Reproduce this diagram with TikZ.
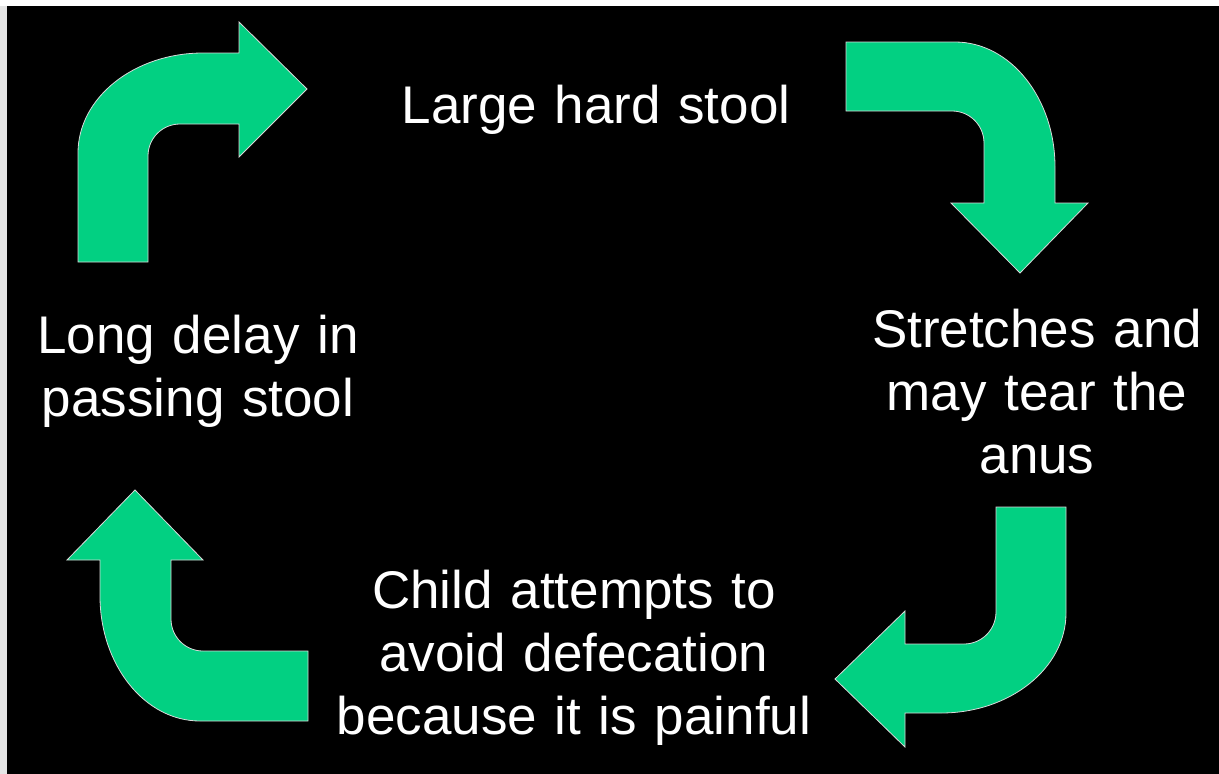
\documentclass[tikz,border=0pt]{standalone}
\usepackage{fontspec}
\setmainfont{Liberation Sans}
\usepackage{tikz}
\definecolor{mint}{RGB}{2,208,130}
\tikzstyle{bent} = [fill=mint, draw=black!15, line width=0.8pt, line join=miter]
\tikzstyle{cycletext} = [text=white, anchor=base, align=center, text width=500pt, inner sep=0pt, font=\fontsize{53}{63}\selectfont]

\begin{document}
\begin{tikzpicture}[x=1pt,y=-1pt]
			\fill[white] (0,0) rectangle (1219,774);
			\fill[black!10] (0,6) rectangle (7,774);
			\fill[black] (7,6) rectangle (1219,774);
			\useasboundingbox (0,0) rectangle (1219,774);
			% up, then right
			\draw[bent] (78,262) -- (78,153) .. controls (78,97.8) and (134,53) .. (203,53) -- (239,53) -- (239,22) -- (307,89) -- (239,157) -- (239,124) -- (180,124) .. controls (162.3,124) and (148,138.3) .. (148,156) -- (148,262) -- cycle;
			% right, then down
			\draw[bent] (846,42) -- (955,42) .. controls (1010.2,42) and (1055,98) .. (1055,167) -- (1055,203) -- (1088,203) -- (1020,273) -- (951,203) -- (984,203) -- (984,143) .. controls (984,125.3) and (969.7,111) .. (952,111) -- (846,111) -- cycle;
			% down, then left
			\draw[bent] (1066,507) -- (1066,613) .. controls (1066,668.2) and (1010,713) .. (941,713) -- (905,713) -- (905,747) -- (835,679) -- (905,611) -- (905,644) -- (964,644) .. controls (981.7,644) and (996,629.7) .. (996,612) -- (996,507) -- cycle;
			% left, then up
			\draw[bent] (308,721) -- (200,721) .. controls (144.8,721) and (100,665) .. (100,596) -- (100,560) -- (67,560) -- (135,490) -- (203,560) -- (171,560) -- (171,619) .. controls (171,636.7) and (185.3,651) .. (203,651) -- (308,651) -- cycle;
			\node[cycletext] (stool) at (596,123) {Large hard stool};
			\node[cycletext] (tear) at (1037,347) {Stretches and\\may tear the\\anus};
			\node[cycletext] (avoid) at (574,608) {Child attempts to\\avoid defecation\\because it is painful};
			\node[cycletext] (delay) at (198,353) {Long delay in\\passing stool};
		\end{tikzpicture}
\end{document}
